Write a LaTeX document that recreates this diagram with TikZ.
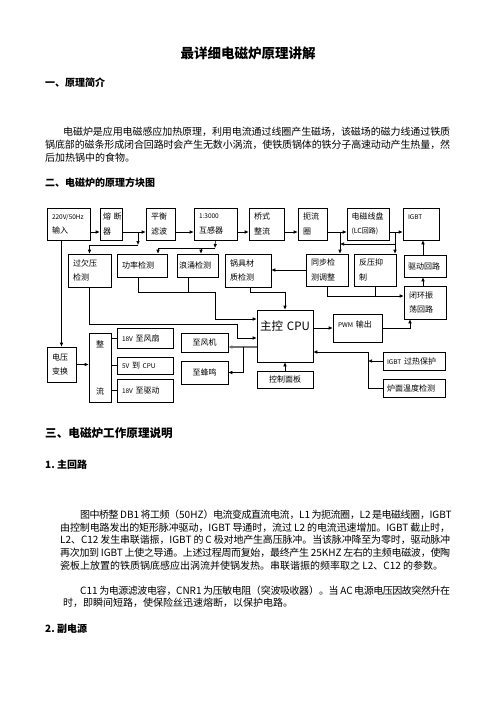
\documentclass[tikz,border=0pt]{standalone}
\usepackage{fontspec}
\setmainfont{Noto Sans CJK SC}
\usetikzlibrary{arrows.meta,calc}
\tikzset{
  bx/.style={draw, line width=0.6pt, inner ysep=0pt, font=\fontsize{8}{14.5}\selectfont, align=left},
  arr/.style={line width=0.6pt, -{Latex[length=4pt,width=3.6pt]}},
  ln/.style={line width=0.6pt},
  garr/.style={line width=1.4pt, draw=black!55, -{Latex[length=4pt,width=3.8pt]}},
  tl/.style={anchor=west, inner sep=0pt, font=\fontsize{10}{13}\selectfont},
  hd/.style={anchor=west, inner sep=0pt, font=\bfseries\fontsize{10}{12}\selectfont},
}
\newcommand\ltn[1]{{\fontsize{6.5}{8}\selectfont #1}}
% [opts]{name}{xsep}{x1}{y1}{x2}{y2}{text}
\newcommand\mkbox[8][]{%
  \pgfmathsetmacro\mbw{#6-#4}%
  \pgfmathsetmacro\mbh{#7-#5}%
  \pgfmathsetmacro\mbt{#6-#4-2*#3}%
  \pgfmathsetmacro\mbx{(#4+#6)/2}%
  \pgfmathsetmacro\mby{(#5+#7)/2}%
  \node[bx,inner xsep=#3pt,minimum width=\mbw pt,minimum height=\mbh pt,text width=\mbt pt,#1] (#2) at (\mbx,\mby) {#8};}
\newcommand\jl[2]{\parbox{#1pt}{\XeTeXlinebreaklocale "zh"\XeTeXlinebreakskip=0pt plus 4pt minus 0.5pt\relax\XeTeXlinebreakpenalty=10000\relax\parindent=0pt\parfillskip=0pt\relax\tolerance=10000\relax\hbadness=10000\relax #2\par}}
\begin{document}
\begin{tikzpicture}[x=1pt,y=-1pt]
\fill[white] (0,0) rectangle (496,702);
\useasboundingbox (0,0) rectangle (496,702);

% ---------- page text ----------
\node[inner sep=0pt, font=\bfseries\fontsize{13.5}{16}\selectfont] (title) at (248,53) {最详细电磁炉原理讲解};
\node[hd] (h1) at (45,83) {一、原理简介};
\node[tl] (a1) at (63,132) {\jl{387}{电磁炉是应用电磁感应加热原理，利用电流通过线圈产生磁场，该磁场的磁力线通过铁质}};
\node[tl] (a2) at (45,145) {\jl{405}{锅底部的磁条形成闭合回路时会产生无数小涡流，使铁质锅体的铁分子高速动动产生热量，然}};
\node[tl] (a3) at (45,158) {后加热锅中的食物。};
\node[hd] (h2) at (45,183) {二、电磁炉的原理方块图};
\node[hd, font=\bfseries\fontsize{11.6}{14}\selectfont] (h3) at (45,433) {三、电磁炉工作原理说明};
\node[hd] (h4) at (45,465) {1.~主回路};
\node[tl] (b1) at (80,515) {\jl{370}{图中桥整~DB1~将工频（50HZ）电流变成直流电流，L1~为扼流圈，L2~是电磁线圈，IGBT}};
\node[tl] (b2) at (60,528) {\jl{390}{由控制电路发出的矩形脉冲驱动，IGBT~导通时，流过~L2~的电流迅速增加。IGBT~截止时，}};
\node[tl] (b3) at (60,540) {\jl{390}{L2、C12~发生串联谐振，IGBT~的~C~极对地产生高压脉冲。当该脉冲降至为零时，驱动脉冲}};
\node[tl] (b4) at (60,553) {\jl{390}{再次加到~IGBT~上使之导通。上述过程周而复始，最终产生~25KHZ~左右的主频电磁波，使陶}};
\node[tl] (b5) at (60,566) {瓷板上放置的铁质锅底感应出涡流并使锅发热。串联谐振的频率取之 L2、C12 的参数。};
\node[tl] (c1) at (80,591) {\jl{370}{C11~为电源滤波电容，CNR1~为压敏电阻（突波吸收器）。当~AC~电源电压因故突然升在}};
\node[tl] (c2) at (63,603) {时，即瞬间短路，使保险丝迅速熔断，以保护电路。};
\node[hd] (h5) at (45,629) {2.~副电源};

% ---------- block diagram boxes ----------
\mkbox{in}{5}{47}{208}{90}{240}{\ltn{220V/50Hz}\\输入}
\mkbox{fuse}{3}{100}{208}{122}{240}{熔~断\\器}
\mkbox{bal}{5}{146}{208}{175}{240}{平衡\\滤波}
\mkbox{ct}{5}{194}{208}{237}{240}{\ltn{1:3000}\\互感器}
\mkbox{br}{5}{249}{208}{284}{240}{桥式\\整流}
\mkbox{ch}{5}{298}{208}{327}{240}{扼流\\圈}
\mkbox{lc}{4.5}{347}{208}{389}{240}{电磁线盘\\{\fontsize{7}{14.5}\selectfont (LC回路)}}
\mkbox{igbt}{5}{403}{208}{439}{240}{\ltn{IGBT}\\\mbox{}}
\mkbox{ov}{5}{68}{254}{111}{287}{过欠压\\检测}
\mkbox{pw}{5}{117}{254}{167}{277}{功率检测}
\mkbox{su}{2}{177}{254}{218}{277}{浪涌检测}
\mkbox{pot}{5}{225}{254}{271}{287}{锅具材\\质检测}
\mkbox{sync}{5}{306}{254}{348}{286}{同步检\\测调整}
\mkbox{rv}{5}{354}{254}{396}{286}{反压抑\\制}
\mkbox{drv}{4}{404}{255}{446}{277}{驱动回路}
\mkbox{osc}{5}{404}{286}{446}{319}{闭环振\\荡回路}
\mkbox[align=center,font=\fontsize{11.5}{20}\selectfont]{cpu}{2}{257}{310}{313}{362}{主控~CPU\\\mbox{}}
\mkbox[font=\fontsize{8}{8}\selectfont]{pwm}{5}{333}{314}{382}{342}{\ltn{PWM}~输出\\\mbox{}}
\mkbox{vt}{5}{47}{347}{76}{382}{电压\\变换}
\mkbox[align=center,font=\fontsize{8}{47}\selectfont]{rc}{2}{89}{333}{111}{402}{整\\流}
\mkbox{f18}{5}{117}{328}{173}{348}{\ltn{18V}~至风扇}
\mkbox{c5v}{5}{117}{357}{173}{374}{\ltn{5V}~到~\ltn{CPU}}
\mkbox{d18}{5}{117}{379}{173}{402}{\ltn{18V}~至驱动}
\mkbox[align=center]{fan}{4}{181}{333}{228}{352}{至风机}
\mkbox[align=center]{bz}{4}{181}{361}{228}{384}{至蜂鸣}
\mkbox[align=center]{cp}{4}{257}{371}{313}{388}{控制面板}
\mkbox{ig}{4}{383}{352}{445}{370}{\ltn{IGBT}~过热保护}
\mkbox{ft}{4}{383}{379}{445}{397}{炉面温度检测}

% ---------- helper coordinates ----------
\coordinate (L232) at (0,232);
\coordinate (j1) at (138,232);
\coordinate (j1b) at (138,245);
\coordinate (j2) at (340,232);
\coordinate (j2m) at (340,244);
\coordinate (j3) at (395,232);
\coordinate (j3m) at (395,244);
\coordinate (j4) at (215,248);
\coordinate (k1) at (158,248);
\coordinate (k2) at (201,248);
\coordinate (cc1) at (237,324);
\coordinate (L338) at (0,338);
\coordinate (p1) at (138,292);
\coordinate (p2) at (215,292);
\coordinate (p3) at (188,292);
\coordinate (L319) at (0,319);
\coordinate (q1) at (250,292);
\coordinate (L296) at (0,296);
\coordinate (xd) at (423,0);
\coordinate (t1) at (410,328);
\coordinate (u1) at (368,352);
\coordinate (v1) at (243,347);

% ---------- connectors ----------
\draw[arr] (in.east |- L232) -- (fuse.west |- L232);
\draw[arr] (fuse.east |- L232) -- (bal.west |- L232);
\draw[arr] (j1) -- (j1b);
\draw[arr] (j1b) -| (ov.north);
\draw[arr] (bal.east |- L232) -- (ct.west |- L232);
\draw[arr] (ct.east |- L232) -- (br.west |- L232);
\draw[arr] (br.east |- L232) -- (ch.west |- L232);
\draw[arr] (ch.east |- L232) -- (lc.west |- L232);
\draw[arr] (j2) -- (j2 |- sync.north);
\draw[arr] (lc.east |- L232) -- (igbt.west |- L232);
\draw[arr] (j3) -- (j3 |- rv.north);
\draw[arr] (j3m) -- (j2m);
\draw[arr] (ct.south) -- (j4);
\draw[ln] (j4) -- (k1);
\draw[arr] (k1) -- (k1 |- pw.north);
\draw[arr] (k2) -- (k2 |- su.north);
\draw[arr] (ov.south) |- (cc1) |- (cpu.west |- L338);
\draw[arr] (p1 |- pw.south) -- (p1) -- (p2) |- (cpu.west |- L319);
\draw[ln] (p3 |- su.south) -- (p3);
\draw[arr] (q1 |- pot.south) -- (q1) -| (cpu.north);
\draw[arr] (vt.north |- in.south) -- (vt.north);
\draw[arr] (vt.east) -- (vt.east -| rc.west);
\draw[ln] (rc.east |- f18.west) -- (f18.west);
\draw[ln] (rc.east |- c5v.west) -- (c5v.west);
\draw[ln] (rc.east |- d18.west) -- (d18.west);
\draw[arr] (sync.west) -- (sync.west -| pot.east);
\draw[arr] (sync.south) |- (osc.west |- L296);
\draw[ln] (rv.south) -- (rv.south |- L296);
\draw[arr] (xd |- osc.north) -- (xd |- drv.south);
\draw[arr] (xd |- drv.north) -- (xd |- igbt.south);
\draw[arr] (cpu.east |- pwm.west) -- (pwm.west);
\draw[arr] (pwm.east) -- (t1) -- (t1 |- osc.south);
\draw[arr] (ft.west) -| (u1) -- (cpu.east |- u1);
\draw[arr] (ig.west) -- (ig.west -| u1);
\draw[garr] (cpu.west |- v1) -- (fan.east |- v1);
\draw[arr] (v1) |- (bz.east);
\draw[arr] (cp.north) -- (cpu.south);
\end{tikzpicture}
\end{document}
